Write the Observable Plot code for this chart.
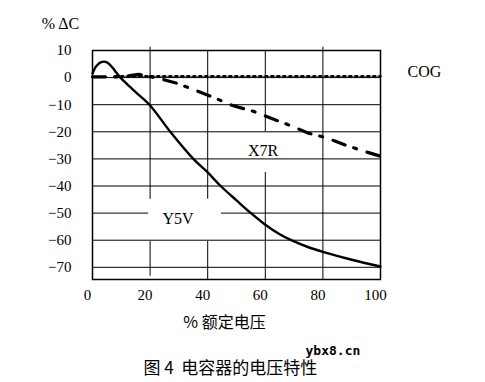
<!DOCTYPE html>
<html>
<head>
<meta charset="utf-8">
<script src="https://cdn.jsdelivr.net/npm/d3@7"></script>
<script src="https://cdn.jsdelivr.net/npm/@observablehq/plot@0.6"></script>
<style>
  html, body { margin: 0; padding: 0; background: #fff; }
</style>
</head>
<body>
<div id="chart"></div>
<script>
// ---- data ----
const y5vX = [0, 1, 2, 3, 4, 5, 6, 7, 8, 9.7, 12, 15, 20, 27, 35, 40, 44.5, 50, 55, 60, 65, 69, 75, 80, 90, 100];
const y5vY = [1.5, 3.8, 5.0, 5.7, 5.9, 5.6, 4.8, 3.6, 2.2, 0, -2.4, -5.4, -10.3, -20, -30, -35, -40, -45.3, -50, -54.3, -57.8, -60, -62.6, -64.3, -67.2, -69.7];

const x7rX = [0, 10, 16, 23, 29, 36, 42, 48.6, 56, 62, 68.5, 75, 81.5, 88, 94.7, 100];
const x7rY = [0.3, 0.3, 1.2, -0.3, -2, -4.8, -7.3, -10.3, -12.5, -15, -17.6, -20.5, -22.3, -25, -27.3, -29];

const cogX = [8, 20, 40, 60, 80, 100];
const cogY = [0.5, 0.5, 0.5, 0.5, 0.5, 0.5];

const xTicks = [0, 20, 40, 60, 80, 100];
const yTicks = [10, 0, -10, -20, -30, -40, -50, -60, -70];

const seriesLabels = ["Y5V", "X7R", "COG"];
const yTitle = "% ΔC";
const xTitle = "% 额定电压";
const caption = "图 4  电容器的电压特性";
const watermark = "ybx8.cn";

// ---- tables ----
const y5v = y5vX.map((x, i) => ({x, y: y5vY[i]}));
const x7r = x7rX.map((x, i) => ({x, y: x7rY[i]}));
const cog = cogX.map((x, i) => ({x, y: cogY[i]}));

const serif = "'Liberation Serif', 'Times New Roman', serif";
const cjk = "'Noto Sans CJK SC', 'Noto Sans', sans-serif";

const chart = Plot.plot({
  width: 485,
  height: 382,
  marginLeft: 92,
  marginRight: 105,
  marginTop: 50,
  marginBottom: 103,
  style: {background: "#fff", color: "#000", fontFamily: serif, fontSize: "15px", overflow: "visible"},
  x: {domain: [0, 100]},
  y: {domain: [-74.5, 10]},
  marks: [
    Plot.axisX({ticks: xTicks, tickSize: 0, tickPadding: 10, dx: -5, label: null, fontSize: 15, fontFamily: serif}),
    Plot.axisY({ticks: yTicks, tickSize: 0, tickPadding: 21, label: null, fontSize: 15, fontFamily: serif}),
    // horizontal grid
    Plot.ruleY(yTicks.filter(v => v !== 10 && v !== -50), {x1: 0, x2: 100, stroke: "#000", strokeWidth: 1}),
    Plot.ruleY([{y: -50, a: 0, b: 19.5}, {y: -50, a: 44.8, b: 100}], {y: "y", x1: "a", x2: "b", stroke: "#000", strokeWidth: 1}),
    // vertical grid (with gaps around labels)
    Plot.ruleX([
      {x: 20, a: 11.2, b: -44.9}, {x: 20, a: -60.5, b: -73.3},
      {x: 40, a: 10, b: -44.9}, {x: 40, a: -60.5, b: -74.5},
      {x: 60, a: 10, b: -20}, {x: 60, a: -35, b: -74.5},
      {x: 80, a: 11.2, b: -74.5}
    ], {x: "x", y1: "a", y2: "b", stroke: "#000", strokeWidth: 1}),
    Plot.frame({stroke: "#000", strokeWidth: 1.5}),
    // COG
    Plot.line(cog, {x: "x", y: "y", stroke: "#444", strokeWidth: 1}),
    Plot.line(cog, {x: "x", y: "y", stroke: "#000", strokeWidth: 2.5, strokeDasharray: "1.5,4.5"}),
    // X7R
    Plot.line(x7r, {x: "x", y: "y", stroke: "#000", strokeWidth: 3.2, strokeDasharray: "13,9,3,11", curve: "linear"}),
    // Y5V
    Plot.line(y5v, {x: "x", y: "y", stroke: "#000", strokeWidth: 2.4, curve: "catmull-rom"}),
    // series labels
    Plot.text([seriesLabels[0]], {x: 29.7, y: -52.3, text: d => d, fontSize: 16, fontFamily: serif, fill: "#000"}),
    Plot.text([seriesLabels[1]], {x: 59.2, y: -27.2, text: d => d, fontSize: 16, fontFamily: serif, fill: "#000"}),
    Plot.text([seriesLabels[2]], {frameAnchor: "top-left", dx: 315, dy: 21.5, textAnchor: "start", lineAnchor: "middle", text: d => d, fontSize: 16, fontFamily: serif, fill: "#000"}),
    // titles
    Plot.text([yTitle], {frameAnchor: "top-left", dx: -32, dy: -26.5, textAnchor: "middle", lineAnchor: "middle", text: d => d, fontSize: 16, fontFamily: serif, fill: "#000"}),
    Plot.text([xTitle], {frameAnchor: "top-left", dx: 132, dy: 272.5, textAnchor: "middle", lineAnchor: "middle", text: d => d, fontSize: 16, fontFamily: cjk, fill: "#000"}),
    Plot.text([caption], {frameAnchor: "top-left", dx: 51, dy: 318, textAnchor: "start", lineAnchor: "middle", text: d => d, fontSize: 17, fontFamily: cjk, fill: "#000"}),
    Plot.text([watermark], {frameAnchor: "top-left", dx: 213, dy: 300, textAnchor: "start", lineAnchor: "middle", text: d => d, fontSize: 13, fontWeight: "bold", fontFamily: "'DejaVu Sans Mono', monospace", fill: "#000"})
  ]
});
document.getElementById("chart").appendChild(chart);
</script>
</body>
</html>
